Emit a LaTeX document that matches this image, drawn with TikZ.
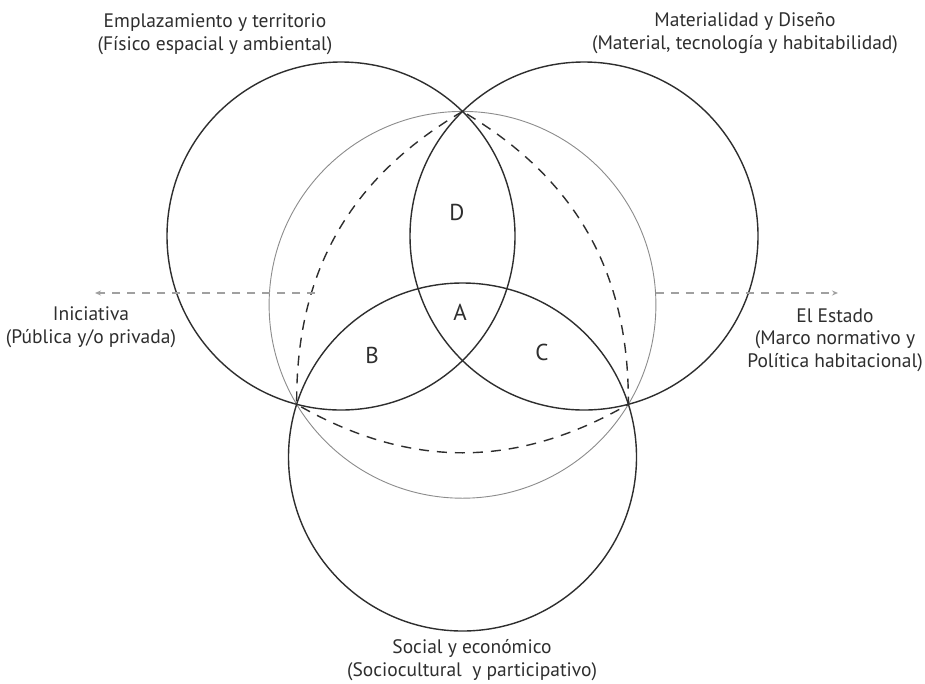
\documentclass[tikz,border=0pt]{standalone}
\usepackage{fontspec}
\setmainfont{PT Sans}
\usetikzlibrary{arrows.meta}
\definecolor{ink}{HTML}{2E2E2E}
\definecolor{ringgray}{HTML}{8C8C8C}
\definecolor{arrgray}{HTML}{A0A0A0}
\begin{document}
\begin{tikzpicture}[x=1pt,y=-1pt,
  ring/.style={draw=ink, line width=1.4pt},
  thinring/.style={draw=ringgray, line width=0.9pt},
  reul/.style={draw=ink, line width=1.4pt, dash pattern=on 10pt off 8pt},
  guide/.style={draw=arrgray, line width=1.2pt, dash pattern=on 8pt off 7pt, -{Stealth[length=6pt,width=5pt]}},
  lbl/.style={text=ink, font=\fontsize{19.5}{22.5}\selectfont, align=center, inner sep=0pt, anchor=base},
  region/.style={text=ink, font=\fontsize{23}{26}\selectfont, inner sep=0pt}
]
\useasboundingbox (0,0) rectangle (925,683);
\fill[white] (0,0) rectangle (925,683);

% circle centres and intersection points
\coordinate (cL) at (341,236);
\coordinate (cR) at (584,236);
\coordinate (cB) at (462.5,457);
\coordinate (cG) at (462.5,304.8);
\coordinate (T)  at (462.5,111.45);
\coordinate (BL) at (296.7,404.3);
\coordinate (BR) at (628.3,404.3);

% grey circumscribed circle
\draw[thinring] (cG) circle (193.4);

% Reuleaux dashed arcs
\draw[reul] (T) to[bend right=30] (BL) to[bend right=30] (BR) to[bend right=30] (T);

% main circles
\draw[ring] (cL) circle (174);
\draw[ring] (cR) circle (174);
\draw[ring] (cB) circle (174);

% dashed guide arrows
\coordinate (gLs) at (315,293);
\coordinate (gLe) at (95,293);
\coordinate (gRs) at (655.9,293);
\coordinate (gRe) at (838,293);
\draw[guide] (gLs) -- (gLe);
\draw[guide] (gRs) -- (gRe);

% region letters
\node[region] (A) at (460,312) {A};
\node[region] (D) at (457,212) {D};
\node[region] (B) at (372,355) {B};
\node[region] (C) at (542,352) {C};

% labels (anchor = baseline of last line)
\node[lbl] (emp) at (215,50) {Emplazamiento y territorio\\(Físico espacial y ambiental)};
\node[lbl] (mat) at (745,49) {Materialidad y Diseño\\(Material, tecnología y habitabilidad)};
\node[lbl] (ini) at (91,343) {Iniciativa\\(Pública y/o privada)};
\node[lbl] (est) at (835,367) {El Estado\\(Marco normativo y\\Política habitacional)};
\node[lbl] (soc) at (472,676) {Social y económico\\(Sociocultural~~y participativo)};
\end{tikzpicture}
\end{document}
